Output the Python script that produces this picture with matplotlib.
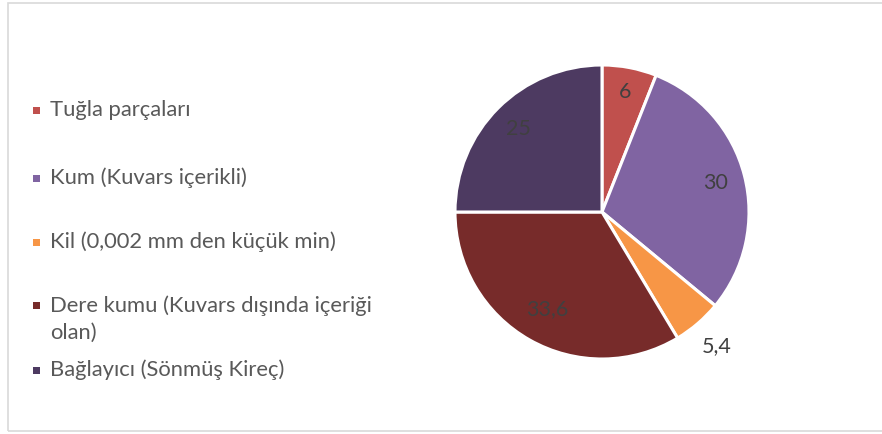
import numpy as np
import matplotlib
matplotlib.use("Agg")
import matplotlib.pyplot as plt
from matplotlib.patches import Rectangle

categories = ["Tuğla parçaları", "Kum (Kuvars içerikli)", "Kil (0,002 mm den küçük min)",
              "Dere kumu (Kuvars dışında içeriği\nolan)", "Bağlayıcı (Sönmüş Kireç)"]
values = [6, 30, 5.4, 33.6, 25]
value_labels = ["6", "30", "5,4", "33,6", "25"]
colors = ["#C0504D", "#8064A2", "#F79646", "#772B2A", "#4D3A61"]
label_dist = [0.83, 0.80, 1.20, 0.76, 0.80]

plt.rcParams['font.family'] = ['Lato', 'DejaVu Sans']

W, H = 882, 434
fig = plt.figure(figsize=(W / 100, H / 100), dpi=100)

# border
fig.add_artist(Rectangle((7.5 / W, 3.5 / H), (W + 10) / W, (H - 6) / H,
                         transform=fig.transFigure, fill=False,
                         edgecolor="#D9D9D9", linewidth=1.2))

cx, cy, r = 602, 434 - 212, 147
ax = fig.add_axes([(cx - r) / W, (cy - r) / H, 2 * r / W, 2 * r / H])
wedges, _ = ax.pie(values, colors=colors, startangle=90, counterclock=False,
                   radius=1, wedgeprops=dict(edgecolor="white", linewidth=2.2))
ax.set_xlim(-1, 1)
ax.set_ylim(-1, 1)
ax.set_aspect("equal")
ax.axis("off")

for w, lab, d in zip(wedges, value_labels, label_dist):
    ang = np.deg2rad((w.theta1 + w.theta2) / 2)
    ax.text(d * np.cos(ang), d * np.sin(ang), lab, ha="center", va="center",
            fontsize=15.5, color="#404040", clip_on=False)

# legend (manual)
leg_y = [110, 178, 242, 305, 370]
leg_text_y = [110, 178, 242, 319, 370]
for lab, col, y, ty in zip(categories, colors, leg_y, leg_text_y):
    fig.add_artist(Rectangle((33 / W, (H - y - 3.5) / H), 7 / W, 7 / H,
                             transform=fig.transFigure, facecolor=col, edgecolor="none"))
    fig.text(50 / W, (H - ty) / H, lab, ha="left", va="center",
             fontsize=15.8, color="#595959", linespacing=1.4)

fig.savefig("out.png", dpi=100)
